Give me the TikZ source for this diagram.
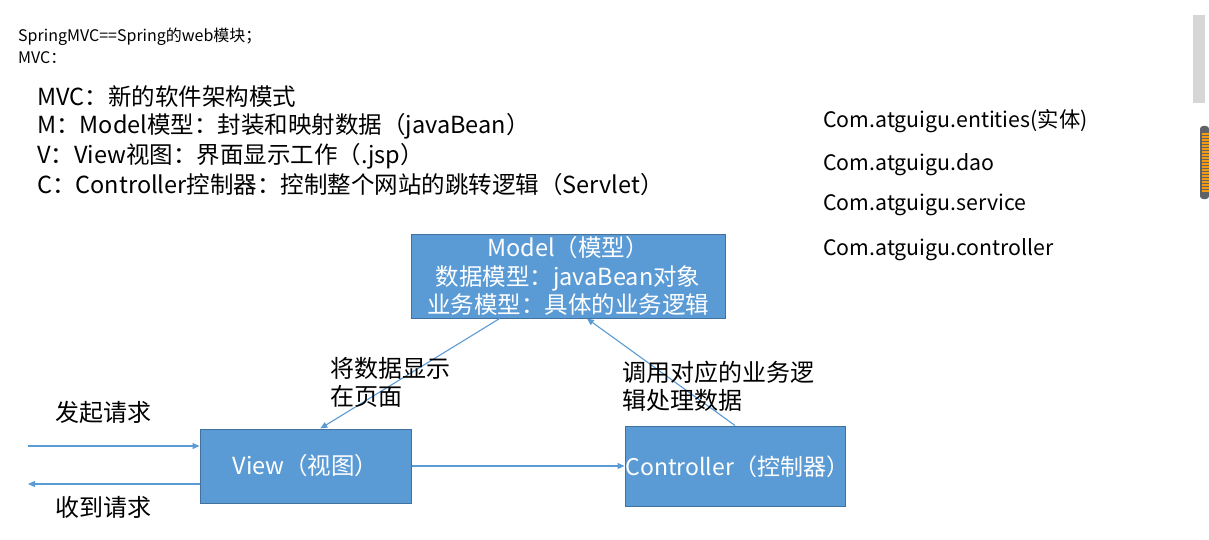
\documentclass[tikz,border=0pt]{standalone}
\usepackage{fontspec}
\setmainfont{Noto Sans CJK SC}
\usepackage{tikz}
\usetikzlibrary{calc, arrows.meta, positioning}
\definecolor{boxfill}{HTML}{5B9BD5}
\definecolor{boxline}{HTML}{41719C}
\definecolor{flowline}{HTML}{5B9BD5}
\definecolor{scrollgray}{HTML}{D6D6D6}
\definecolor{thumbgray}{HTML}{5F6368}
\definecolor{thumborange}{HTML}{F39C12}

\begin{document}
\begin{tikzpicture}[x=1pt, y=-1pt,
    mvcbox/.style={draw=boxline, line width=1pt, fill=boxfill, text=white, inner sep=0pt, font=\fontsize{23.5}{28.5}\selectfont},
    note/.style={anchor=west, inner sep=0pt, font=\fontsize{16}{19}\selectfont},
    point/.style={anchor=west, inner sep=0pt, font=\fontsize{23.5}{28}\selectfont},
    pkg/.style={anchor=west, inner sep=0pt, font=\fontsize{21.3}{25}\selectfont},
    label/.style={anchor=west, align=left, inner sep=0pt, font=\fontsize{24}{28}\selectfont},
    flow/.style={-{Triangle[length=7pt, width=6pt]}, draw=flowline, line width=1.1pt}
]
\useasboundingbox (0,0) rectangle (1209,540);

% page notes
\node[note] (title) at (18,37) {SpringMVC==Spring的web模块；};
\node[note] (sub) at (18,58) {MVC：};

% definition of MVC
\node[point] (mvc) at (37,97) {MVC：新的软件架构模式};
\node[point] (pm) at (37,126) {M：Model模型：封装和映射数据（javaBean）};
\node[point] (pv) at (37,156) {V：View视图：界面显示工作（.jsp）};
\node[point] (pc) at (37,185) {C：Controller控制器：控制整个网站的跳转逻辑（Servlet）};

% packages
\node[pkg] (entities) at (823,121) {Com.atguigu.entities(实体)};
\node[pkg] (dao) at (823,165) {Com.atguigu.dao};
\node[pkg] (service) at (823,205) {Com.atguigu.service};
\node[pkg] (controllerpkg) at (823,250) {Com.atguigu.controller};

% boxes
\node[mvcbox, minimum width=314pt, minimum height=84pt, align=center] (model) at (568,276)
    {Model（模型）\\数据模型：javaBean对象\\业务模型：具体的业务逻辑};
\node[mvcbox, minimum width=211pt, minimum height=74pt] (view) at (305.5,466) {View（视图）};
\node[mvcbox, minimum width=220pt, minimum height=80pt] (controller) at (735,466) {};
\node[mvcbox, draw=none, fill=none, anchor=west, font=\fontsize{23}{28}\selectfont] (ctrltext) at (625,467) {Controller（控制器）};

% free ends on the left
\coordinate (reqin) at (28,446);
\coordinate (reqout) at (28,484);

% connectors
\draw[flow] (reqin) -- (reqin -| view.west);
\draw[flow] (reqout -| view.west) -- (reqout);
\draw[flow] (view.east) -- (controller.west);
\draw[flow] ($(model.south west)!0.283!(model.south east)$) -- ($(view.north west)!0.57!(view.north east)$);
\draw[flow] (controller.north) -- ($(model.south west)!0.56!(model.south east)$);

% connector labels
\node[label] (send) at (55,412) {发起请求};
\node[label] (recv) at (55,507) {收到请求};
\node[label] (show) at (330,382) {将数据显示\\在页面};
\node[label] (call) at (622,386) {调用对应的业务逻\\辑处理数据};

% scroll bar of the screenshot
\fill[scrollgray] (1193,15) rectangle (1205,103);
\fill[thumbgray, rounded corners=3pt] (1200,126) rectangle (1209,199);
\fill[thumborange] (1202,133) rectangle (1209,193);
\foreach \y in {135,138,...,192}
    \draw[thumbgray, line width=0.6pt] (1202,\y) -- (1209,\y);
\end{tikzpicture}
\end{document}
